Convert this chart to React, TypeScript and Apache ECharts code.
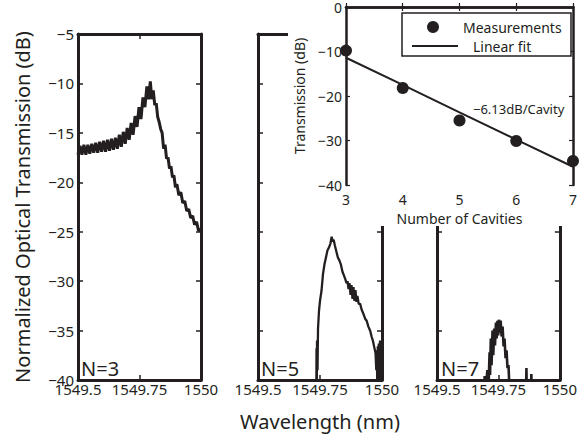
import React, { useEffect, useRef } from "react";
import * as echarts from "echarts";

// ---------- data ----------
const wavelengthTicks = [1549.5, 1549.75, 1550];
const panelLabels = ["N=3", "N=5", "N=7"];

// N=3 spectrum: [wavelength (nm), transmission (dB)]
const spectrumN3: [number, number][] = [
  [1549.5, -17.2], [1549.508, -16.3], [1549.516, -17.2], [1549.524, -16.2],
  [1549.532, -17.2], [1549.54, -16.2], [1549.548, -17.1], [1549.556, -16.1],
  [1549.564, -17.0], [1549.572, -16.0], [1549.58, -17.0], [1549.588, -15.9],
  [1549.596, -16.9], [1549.604, -15.8], [1549.612, -16.9], [1549.62, -15.7],
  [1549.628, -16.8], [1549.636, -15.6], [1549.644, -16.7], [1549.652, -15.5],
  [1549.66, -16.6], [1549.668, -15.2], [1549.676, -16.4], [1549.684, -14.9],
  [1549.692, -16.1], [1549.7, -14.5], [1549.708, -15.7], [1549.716, -14.0],
  [1549.724, -15.2], [1549.732, -13.3], [1549.74, -14.4], [1549.748, -12.4],
  [1549.756, -13.6], [1549.764, -11.4], [1549.772, -12.4], [1549.78, -10.3],
  [1549.787, -11.6], [1549.794, -9.8], [1549.8, -11.6], [1549.806, -10.7],
  [1549.812, -12.2], [1549.818, -12.0], [1549.824, -13.4], [1549.83, -13.9],
  [1549.836, -14.6], [1549.842, -15.0], [1549.848, -16.6], [1549.854, -16.2],
  [1549.86, -17.6], [1549.866, -17.5], [1549.872, -18.6], [1549.878, -18.4],
  [1549.884, -19.5], [1549.89, -19.3], [1549.896, -20.5], [1549.902, -20.2],
  [1549.91, -21.3], [1549.918, -21.0], [1549.926, -22.1], [1549.934, -21.9],
  [1549.942, -22.9], [1549.95, -22.7], [1549.958, -23.6], [1549.966, -23.4],
  [1549.974, -24.3], [1549.982, -24.0], [1549.99, -24.9], [1550.0, -24.8],
];

// N=5 spectrum
const spectrumN5: [number, number][] = [
  [1549.735, -42], [1549.736, -36.8], [1549.737, -40.5], [1549.738, -36.0],
  [1549.74, -39], [1549.742, -34.8], [1549.746, -33.0], [1549.75, -32.0],
  [1549.756, -31.0], [1549.762, -29.3], [1549.768, -28.3], [1549.774, -27.6],
  [1549.78, -26.9], [1549.786, -26.6], [1549.792, -26.2], [1549.797, -25.5],
  [1549.801, -26.0], [1549.805, -25.8], [1549.81, -26.4], [1549.816, -27.0],
  [1549.822, -27.6], [1549.828, -27.9], [1549.834, -28.3], [1549.84, -29.0],
  [1549.846, -29.4], [1549.852, -29.8], [1549.857, -30.2], [1549.861, -30.0],
  [1549.865, -30.8], [1549.869, -30.2], [1549.873, -31.4], [1549.877, -30.4],
  [1549.881, -31.8], [1549.885, -30.6], [1549.889, -32.0], [1549.893, -30.9],
  [1549.897, -32.1], [1549.901, -31.5], [1549.906, -32.3], [1549.912, -32.3],
  [1549.918, -32.9], [1549.925, -33.3], [1549.932, -33.8], [1549.938, -34.0],
  [1549.945, -34.6], [1549.952, -35.0], [1549.958, -35.6], [1549.964, -36.1],
  [1549.969, -36.7], [1549.974, -37.3], [1549.977, -39.0], [1549.979, -37.0],
  [1549.981, -40.5], [1549.983, -36.6], [1549.985, -41], [1549.987, -36.3],
  [1549.989, -39.5], [1549.992, -36.0], [1549.994, -42],
];

// N=7 spectrum
const spectrumN7: [number, number][] = [
  [1549.69, -42], [1549.694, -39.6], [1549.7, -40.5], [1549.705, -39.0],
  [1549.71, -40.5], [1549.714, -37.2], [1549.716, -39.5], [1549.719, -35.8],
  [1549.722, -38.5], [1549.726, -35.0], [1549.729, -37.5], [1549.733, -34.8],
  [1549.736, -36.5], [1549.74, -34.2], [1549.743, -35.8], [1549.746, -34.0],
  [1549.749, -35.5], [1549.752, -33.9], [1549.756, -35.2], [1549.759, -34.0],
  [1549.763, -35.6], [1549.767, -34.6], [1549.771, -36.6], [1549.775, -35.8],
  [1549.779, -37.8], [1549.783, -37.0], [1549.787, -38.8], [1549.791, -38.5],
  [1549.795, -41], [1549.8, -42], [1549.862, -42], [1549.864, -38.8],
  [1549.866, -42], [1549.882, -42], [1549.884, -39.4], [1549.886, -42],
];

// inset
const cavities = [3, 4, 5, 6, 7];
const measuredDb = [-9.8, -18.2, -25.5, -30.1, -34.6];
const linearFitDb = [-11.4, -17.5, -23.7, -29.8, -35.9];
const legendNames = ["Measurements", "Linear fit"];
const fitAnnotation = "\u22126.13dB/Cavity";

// ---------- styles ----------
const FONT = "Noto Sans";
const INK = "#231f20";

const fmtDb = (v: number) => (v < 0 ? "\u2212" + Math.abs(v) : String(v));

export default function App() {
  const ref = useRef<HTMLDivElement>(null);

  useEffect(() => {
    if (!ref.current) return;
    const chart = echarts.init(ref.current, null, { renderer: "svg" });

    const panels = [
      { left: 78, width: 123, data: spectrumN3, lw: 3 },
      { left: 258, width: 124, data: spectrumN5, lw: 2.3 },
      { left: 437, width: 124, data: spectrumN7, lw: 2.6 },
    ];

    const line3 = { show: true, lineStyle: { color: INK, width: 3 } };
    const tickIn = { show: true, inside: true, length: 5, lineStyle: { color: INK, width: 1.5 } };

    const grid: any[] = panels.map((p) => ({
      left: p.left, top: 34, width: p.width, height: 346, z: 1,
    }));
    grid.push({ left: 346, top: 6, width: 232, height: 179, z: 11 });

    const xAxis: any[] = [];
    const yAxis: any[] = [];
    const series: any[] = [];

    panels.forEach((p, i) => {
      const base = {
        type: "value", gridIndex: i, splitLine: { show: false }, z: 1,
        axisLine: line3, axisTick: tickIn,
      };
      xAxis.push({
        ...base, position: "bottom",
        min: wavelengthTicks[0], max: wavelengthTicks[2], interval: 0.25,
        axisLabel: {
          show: true, color: INK, fontFamily: FONT, fontSize: 15, margin: 3, lineHeight: 12,
          showMinLabel: true, showMaxLabel: true,
          formatter: (v: number) => String(Math.round(v * 100) / 100),
        },
      });
      xAxis.push({
        ...base, position: "top",
        min: wavelengthTicks[0], max: wavelengthTicks[2], interval: 0.25,
        axisLabel: { show: false },
      });
      yAxis.push({
        ...base, position: "left", min: -40, max: -5, interval: 5,
        axisLabel: {
          show: i === 0, color: INK, fontFamily: FONT, fontSize: 15, margin: 4, lineHeight: 12,
          showMinLabel: true, showMaxLabel: true, formatter: fmtDb,
        },
        name: i === 0 ? "Normalized Optical Transmission (dB)" : "",
        nameLocation: "middle",
        nameGap: 46,
        nameTextStyle: { color: INK, fontFamily: FONT, fontSize: 20 },
      });
      yAxis.push({
        ...base, position: "right", min: -40, max: -5, interval: 5,
        axisLabel: { show: false },
      });
      series.push({
        type: "line", xAxisIndex: 2 * i, yAxisIndex: 2 * i,
        data: p.data, showSymbol: false, symbol: "none", clip: true,
        lineStyle: { color: INK, width: p.lw }, z: 2,
      });
    });

    // inset axes
    const insetBase = {
      type: "value", gridIndex: 3, splitLine: { show: false }, z: 11,
      axisLine: { show: true, lineStyle: { color: INK, width: 2.5 } },
      axisTick: { show: true, inside: true, length: 4, lineStyle: { color: INK, width: 1.2 } },
    };
    xAxis.push({
      ...insetBase, position: "bottom", min: 3, max: 7, interval: 1,
      axisLabel: { color: INK, fontFamily: FONT, fontSize: 14, margin: 8, lineHeight: 12, showMinLabel: true, showMaxLabel: true },
      name: "Number of Cavities", nameLocation: "middle", nameGap: 26,
      nameTextStyle: { color: INK, fontFamily: FONT, fontSize: 14 },
    });
    xAxis.push({ ...insetBase, position: "top", min: 3, max: 7, interval: 1, axisLabel: { show: false } });
    yAxis.push({
      ...insetBase, position: "left", min: -40, max: 0, interval: 10,
      axisLabel: { color: INK, fontFamily: FONT, fontSize: 14, margin: 4, lineHeight: 12, formatter: fmtDb, showMinLabel: true, showMaxLabel: true },
      name: "Transmission (dB)", nameLocation: "middle", nameGap: 40,
      nameTextStyle: { color: INK, fontFamily: FONT, fontSize: 14 },
    });
    yAxis.push({ ...insetBase, position: "right", min: -40, max: 0, interval: 10, axisLabel: { show: false } });

    series.push({
      name: legendNames[0], type: "scatter", xAxisIndex: 6, yAxisIndex: 6,
      data: cavities.map((c, i) => [c, measuredDb[i]]),
      symbol: "circle", symbolSize: 12, clip: false,
      itemStyle: { color: INK, opacity: 1 }, z: 12,
    });
    series.push({
      name: legendNames[1], type: "line", xAxisIndex: 6, yAxisIndex: 6,
      data: cavities.map((c, i) => [c, linearFitDb[i]]),
      showSymbol: false, symbol: "none",
      itemStyle: { color: INK },
      lineStyle: { color: INK, width: 2 }, z: 12,
    });

    const labelText = (text: string, x: number) => ({
      type: "text", z: 5,
      style: { text, x, y: 368, fill: INK, font: `20px "${FONT}"`, lineHeight: 16, align: "left", verticalAlign: "middle" },
    });

    chart.setOption({
      animation: false,
      backgroundColor: "#fff",
      textStyle: { fontFamily: FONT },
      grid, xAxis, yAxis, series,
      graphic: {
        elements: [
          labelText(panelLabels[0], 81),
          labelText(panelLabels[1], 261),
          labelText(panelLabels[2], 441),
          {
            type: "text", z: 5,
            style: { text: "Wavelength (nm)", x: 320, y: 421, fill: INK, font: `20px "${FONT}"`, align: "center", verticalAlign: "middle" },
          },
          { type: "rect", z: 10, shape: { x: 288, y: 0, width: 292, height: 226 }, style: { fill: "#fff" } },
          // legend box
          { type: "rect", z: 13, shape: { x: 402, y: 13, width: 169, height: 43 }, style: { fill: "#fff", stroke: INK, lineWidth: 1.5 } },
          { type: "circle", z: 14, shape: { cx: 433, cy: 27, r: 6 }, style: { fill: INK } },
          { type: "line", z: 14, shape: { x1: 412, y1: 46, x2: 458, y2: 46 }, style: { stroke: INK, lineWidth: 2 } },
          {
            type: "text", z: 14,
            style: { text: legendNames[0], x: 463, y: 27, fill: INK, font: `14px "${FONT}"`, align: "left", verticalAlign: "middle" },
          },
          {
            type: "text", z: 14,
            style: { text: legendNames[1], x: 473, y: 46, fill: INK, font: `14px "${FONT}"`, align: "left", verticalAlign: "middle" },
          },
          {
            type: "text", z: 16,
            style: { text: fitAnnotation, x: 473, y: 109, fill: INK, font: `13px "${FONT}"`, align: "left", verticalAlign: "middle" },
          },
        ],
      },
    });

    return () => chart.dispose();
  }, []);

  return (
    <div
      ref={ref}
      style={{ position: "fixed", left: 0, top: 0, width: 580, height: 441 }}
    />
  );
}
